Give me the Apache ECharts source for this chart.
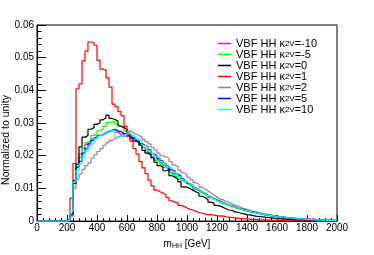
<!DOCTYPE html>
<html><head><meta charset="utf-8">
<script src="https://cdn.jsdelivr.net/npm/echarts@6/dist/echarts.min.js"></script>
<style>html,body{margin:0;padding:0;background:#fff}#c{width:374px;height:255px}</style>
</head><body><div id="c"></div>
<script>
// ---- data (20 GeV bins from 0 to 2000, fraction of events per bin) ----
const binWidth = 20;
const nBins = 100;
const kappaLabels = ['-10', '-5', '0', '1', '2', '5', '10'];

const hKm10 = [0,0,0,0,0,0,0,0,0,0,
0.0002,0.002,0.0115,0.0165,0.0195,0.0223,0.0235,0.0242,0.0252,0.0258,
0.0262,0.0266,0.027,0.0274,0.0276,0.028,0.0272,0.0266,0.0268,0.026,
0.0258,0.0252,0.0248,0.0242,0.0235,0.0226,0.0218,0.021,0.0198,0.019,
0.0186,0.0178,0.017,0.0164,0.0156,0.0146,0.014,0.0134,0.0124,0.0118,
0.0112,0.0106,0.0099,0.0094,0.0088,0.0083,0.0079,0.0072,0.0069,0.0063,
0.0061,0.0055,0.0053,0.0048,0.0046,0.0043,0.0039,0.0038,0.0035,0.0031,
0.003,0.0028,0.0025,0.0023,0.0022,0.002,0.0019,0.0017,0.0015,0.0014,
0.0013,0.0012,0.0011,0.001,0.0009,0.0009,0.0008,0.0007,0.0006,0.0006,
0.0005,0.0005,0.0004,0.0004,0.0003,0.0003,0.0002,0.0002,0.0002,0.0002];

const hKm5 = [0,0,0,0,0,0,0,0,0,0,
0.0003,0.0022,0.012,0.0175,0.0205,0.0223,0.024,0.0246,0.0262,0.0267,
0.0276,0.0282,0.029,0.0301,0.0301,0.0306,0.0296,0.029,0.0284,0.0276,
0.027,0.0262,0.0252,0.0245,0.0236,0.0225,0.0212,0.0205,0.0196,0.0185,
0.018,0.0172,0.0164,0.0158,0.015,0.0143,0.0136,0.0128,0.0122,0.0116,
0.011,0.0104,0.0097,0.0092,0.0086,0.0081,0.0076,0.0071,0.0066,0.0062,
0.0058,0.0054,0.005,0.0047,0.0044,0.0041,0.0038,0.0036,0.0033,0.0031,
0.0029,0.0026,0.0024,0.0023,0.0021,0.0019,0.0017,0.0016,0.0015,0.0013,
0.0012,0.0011,0.001,0.0009,0.0009,0.0008,0.0007,0.0006,0.0006,0.0005,
0.0004,0.0004,0.0004,0.0003,0.0003,0.0002,0.0002,0.0002,0.0001,0.0001];

const hK0 = [0,0,0,0,0,0,0,0,0,0,
0.0004,0.002,0.0125,0.0174,0.0227,0.0257,0.0262,0.0281,0.0286,0.0296,
0.0301,0.031,0.0316,0.0324,0.0314,0.0311,0.0306,0.0291,0.0286,0.028,
0.0265,0.0252,0.0245,0.024,0.0232,0.0216,0.0208,0.0203,0.0193,0.018,
0.017,0.0164,0.0154,0.0158,0.0139,0.0134,0.0128,0.012,0.0105,0.0104,
0.01,0.0094,0.009,0.0085,0.0076,0.0072,0.0066,0.0058,0.0055,0.0048,
0.0046,0.0042,0.0038,0.0034,0.0033,0.0028,0.0027,0.0024,0.0022,0.002,
0.0019,0.0017,0.0015,0.0014,0.0013,0.0012,0.0011,0.001,0.0009,0.0008,
0.0007,0.0007,0.0006,0.0005,0.0005,0.0004,0.0004,0.0003,0.0003,0.0003,
0.0002,0.0002,0.0002,0.0002,0.0001,0.0001,0.0001,0.0001,0.0001,0.0001];

const hK1 = [0,0,0,0,0,0,0,0,0,0,
0.0005,0.007,0.0176,0.0405,0.042,0.049,0.052,0.0548,0.0545,0.0538,
0.0492,0.0465,0.0462,0.0438,0.041,0.0358,0.035,0.0335,0.0322,0.029,
0.026,0.0245,0.0222,0.0205,0.0182,0.0163,0.0145,0.0125,0.0108,0.0095,
0.009,0.0086,0.008,0.0072,0.0062,0.0058,0.0055,0.0048,0.0045,0.004,
0.0036,0.0034,0.003,0.0026,0.0024,0.0022,0.0019,0.002,0.0018,0.0017,
0.0015,0.0016,0.0013,0.0012,0.0011,0.001,0.0009,0.0008,0.0007,0.0007,
0.0006,0.0005,0.0005,0.0004,0.0004,0.0003,0.0003,0.0003,0.0002,0.0002,
0.0002,0.0002,0.0001,0.0001,0.0002,0.0001,0.0001,0.0001,0.0001,0.0001,
0,0.0001,0.0001,0,0.0001,0,0,0.0001,0,0];

const hK2 = [0,0,0,0,0,0,0,0,0,0,
0.0002,0.0015,0.01,0.0129,0.0144,0.0158,0.017,0.0178,0.0193,0.0203,
0.0213,0.0222,0.0232,0.024,0.0247,0.0252,0.0257,0.0262,0.0267,0.0271,
0.0276,0.0272,0.0266,0.0262,0.0257,0.025,0.0243,0.0236,0.0226,0.0218,
0.0208,0.02,0.0196,0.0193,0.0182,0.0172,0.0166,0.0156,0.0148,0.0142,
0.0134,0.0126,0.0118,0.0112,0.0104,0.0098,0.0092,0.0086,0.008,0.0074,
0.0068,0.0065,0.006,0.0058,0.0052,0.0048,0.0046,0.0042,0.0038,0.0036,
0.0033,0.003,0.0028,0.0026,0.0024,0.0022,0.002,0.0019,0.0017,0.0016,
0.0014,0.0013,0.0012,0.0011,0.001,0.0009,0.0008,0.0008,0.0007,0.0006,
0.0005,0.0005,0.0004,0.0004,0.0003,0.0003,0.0003,0.0002,0.0002,0.0002];

const hK5 = [0,0,0,0,0,0,0,0,0,0,
0.0002,0.002,0.0115,0.0165,0.0183,0.0208,0.0222,0.0236,0.0247,0.0254,
0.0262,0.0264,0.027,0.0276,0.0278,0.0281,0.0276,0.0274,0.0268,0.0265,
0.026,0.0256,0.0252,0.0245,0.0238,0.0232,0.0228,0.0218,0.0206,0.02,
0.0192,0.0184,0.0176,0.0168,0.0158,0.0153,0.0144,0.0138,0.0129,0.0122,
0.0115,0.0109,0.0102,0.0096,0.009,0.0085,0.0079,0.0074,0.0069,0.0065,
0.0061,0.0057,0.0053,0.005,0.0046,0.0043,0.004,0.0037,0.0035,0.0032,
0.003,0.0028,0.0026,0.0024,0.0022,0.002,0.0019,0.0017,0.0016,0.0015,
0.0013,0.0012,0.0011,0.001,0.0009,0.0008,0.0008,0.0007,0.0006,0.0005,
0.0005,0.0004,0.0004,0.0003,0.0003,0.0003,0.0002,0.0002,0.0002,0.0001];

const hK10 = [0,0,0,0,0,0,0,0,0,0,
0.0003,0.003,0.012,0.0155,0.0175,0.0198,0.0215,0.023,0.024,0.0252,
0.026,0.0266,0.0272,0.0276,0.0278,0.0276,0.0256,0.0258,0.026,0.0266,
0.0268,0.0262,0.0258,0.025,0.0244,0.0232,0.0226,0.0216,0.0208,0.0198,
0.0192,0.0182,0.0175,0.0166,0.016,0.0151,0.0144,0.0136,0.0127,0.012,
0.0114,0.0108,0.0101,0.0095,0.0089,0.0084,0.0078,0.0073,0.0068,0.0064,
0.006,0.0056,0.0052,0.0049,0.0046,0.0042,0.004,0.0037,0.0034,0.0032,
0.003,0.0027,0.0025,0.0024,0.0022,0.002,0.0018,0.0017,0.0016,0.0014,
0.0013,0.0012,0.0011,0.001,0.0009,0.0008,0.0007,0.0007,0.0006,0.0005,
0.0005,0.0004,0.0004,0.0003,0.0003,0.0003,0.0002,0.0002,0.0002,0.0001];

const histograms = [hKm10, hKm5, hK0, hK1, hK2, hK5, hK10];
const colors = ['#ff00ff', '#00ff00', '#000000', '#ff0000', '#a07f7f', '#0000ff', '#00ffff'];

// ---- build step data (left bin edge -> value, closing point at last edge) ----
const edges = [];
for (let i = 0; i <= nBins; i++) edges.push(i * binWidth);
function toSteps(vals) {
  const d = vals.map((v, i) => [edges[i], v]);
  d.push([edges[vals.length], vals[vals.length - 1]]);
  return d;
}
const FONT = 'Liberation Sans, Arial, Helvetica, sans-serif';
const names = kappaLabels.map(k => 'VBF HH \u03ba_2V=' + k);

const chart = echarts.init(document.getElementById('c'), null, {renderer: 'canvas'});
chart.setOption({
  animation: false,
  backgroundColor: '#fff',
  grid: {left: 37, top: 25, width: 300, height: 204, show: true, borderColor: '#000', borderWidth: 1, backgroundColor: 'transparent'},
  legend: {
    orient: 'vertical', left: 218, top: 38, padding: 0, itemWidth: 13, itemHeight: 1.5, itemGap: 0,
    icon: 'rect', data: names,
    formatter: n => n.replace('_2V', '{sub|2V}'),
    textStyle: {fontFamily: FONT, fontSize: 11, color: '#000', lineHeight: 8.45,
      rich: {sub: {fontFamily: FONT, fontSize: 8, lineHeight: 3, verticalAlign: 'bottom'}}}
  },
  xAxis: {
    type: 'value', min: 0, max: 2000, interval: 200,
    name: 'm{sub|HH} [GeV]', nameLocation: 'middle', nameGap: 10,
    nameTextStyle: {fontFamily: FONT, fontSize: 10, color: '#000', lineHeight: 12,
      rich: {sub: {fontFamily: FONT, fontSize: 7, lineHeight: 4, verticalAlign: 'bottom'}}},
    axisLine: {show: true, lineStyle: {color: '#000', width: 1}},
    axisTick: {show: true, inside: true, length: 6, lineStyle: {color: '#000'}},
    minorTick: {show: true, splitNumber: 5, length: 3, lineStyle: {color: '#000'}},
    splitLine: {show: false},
    axisLabel: {margin: 2, fontFamily: FONT, fontSize: 10, color: '#000', showMinLabel: true, showMaxLabel: true,
      formatter: v => String(v)}
  },
  yAxis: {
    type: 'value', min: 0, max: 0.06, interval: 0.01,
    axisLine: {show: true, lineStyle: {color: '#000', width: 1}},
    axisTick: {show: true, inside: true, length: 9, lineStyle: {color: '#000'}},
    minorTick: {show: true, splitNumber: 5, length: 4.5, lineStyle: {color: '#000'}},
    splitLine: {show: false},
    axisLabel: {margin: 3, fontFamily: FONT, fontSize: 10, color: '#000', formatter: v => String(+v.toFixed(3))}
  },
  graphic: [
    {type: 'text', x: 6, y: 140, rotation: Math.PI / 2,
     style: {text: 'Normalized to unity', fontFamily: FONT, fontSize: 10.5, fill: '#000', align: 'center', verticalAlign: 'middle'}}
  ],
  series: histograms.map((h, i) => ({
    name: names[i], type: 'line', step: 'end', showSymbol: false, symbol: 'none',
    data: toSteps(h), color: colors[i],
    lineStyle: {color: colors[i], width: 1.2}, z: 2 + i
  }))
});
</script></body></html>
